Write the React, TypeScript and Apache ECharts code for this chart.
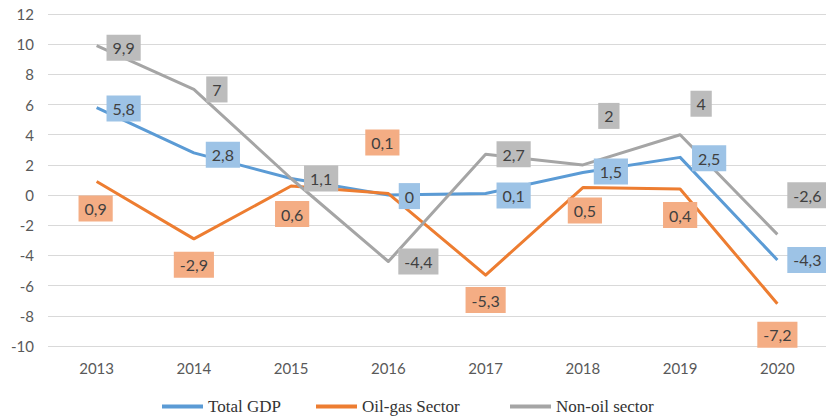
import React, { useEffect, useRef } from "react";
import * as echarts from "echarts";

const years = ["2013", "2014", "2015", "2016", "2017", "2018", "2019", "2020"];
const totalGdp = [5.8, 2.8, 1.1, 0, 0.1, 1.5, 2.5, -4.3];
const oilGas = [0.9, -2.9, 0.6, 0.1, -5.3, 0.5, 0.4, -7.2];
const nonOil = [9.9, 7, 1.1, -4.4, 2.7, 2, 4, -2.6];
const seriesNames = ["Total GDP", "Oil-gas Sector", "Non-oil sector"];
const yTicks = { min: -10, max: 12, interval: 2 };

// label placement (pixel offsets of label box centre from the point)
const gdpOffsets: ([number, number] | null)[] = [[27, 1], [29, 2], null, [21, 1], [28, 2], [28, -1], [29, 1], [30, 0]];
const oilOffsets: ([number, number] | null)[] = [[-1, 27], [0, 26], [1, 28], [-6, -51], [0, 25], [2, 23], [0, 26], [0, 31]];
const nonOilOffsets: ([number, number] | null)[] = [[27, 2], [23, 0], [30, 0], [30, 0], [28, 0], [26, -49], [21, -31], [30, -39]];
const legendLefts = [157, 311, 505];

const fmt = (v: number) => String(v).replace(".", ",");

function buildLabelData(values: number[], offsets: ([number, number] | null)[], bg: string) {
  return values.map((v, i) => {
    const off = offsets[i];
    return {
      value: [years[i], v],
      label: off
        ? {
            show: true,
            position: "inside",
            offset: off,
            formatter: () => fmt(v),
            backgroundColor: bg,
            color: "#404040",
            fontSize: 16,
            fontFamily: "Lato",
            padding: [5, 6, 3, 6],
            lineHeight: 18,
            opacity: 1,
          }
        : { show: false },
    };
  });
}

export default function App() {
  const ref = useRef<HTMLDivElement>(null);
  useEffect(() => {
    document.body.style.margin = "0";
    const chart = echarts.init(ref.current!, null, { renderer: "svg" });
    const axisFont = { color: "#595959", fontSize: 15, fontFamily: "Lato" };
    const lineSeries = (name: string, data: number[], color: string) => ({
      name,
      type: "line",
      data,
      symbol: "none",
      lineStyle: { color, width: 3, join: "round" },
      itemStyle: { color },
      emphasis: { disabled: true },
      z: 2,
    });
    const labelSeries = (name: string, data: any[], z: number) => ({
      name,
      type: "scatter",
      data,
      symbol: "circle",
      symbolSize: 0.01,
      itemStyle: { color: "rgba(0,0,0,0)", opacity: 1 },
      emphasis: { disabled: true },
      silent: true,
      z,
    });
    chart.setOption({
      animation: false,
      backgroundColor: "#ffffff",
      grid: { left: 48, right: -3, top: 14, bottom: 74 },
      legend: seriesNames.map((n, i) => ({
        top: 393,
        left: legendLefts[i],
        itemWidth: 41,
        itemHeight: 4,
        itemGap: 0,
        icon: "rect",
        textStyle: { fontFamily: "Liberation Serif", fontSize: 17, color: "#333" },
        data: [n],
      })),
      xAxis: {
        type: "category",
        data: years,
        boundaryGap: true,
        axisLine: { show: false },
        axisTick: { show: false },
        axisLabel: { ...axisFont, margin: 14 },
      },
      yAxis: {
        type: "value",
        min: yTicks.min,
        max: yTicks.max,
        interval: yTicks.interval,
        axisLabel: { ...axisFont, margin: 14 },
        splitLine: { lineStyle: { color: "#d9d9d9", width: 1 } },
        axisLine: { show: false },
        axisTick: { show: false },
      },
      series: [
        lineSeries(seriesNames[0], totalGdp, "#5b9bd5"),
        lineSeries(seriesNames[1], oilGas, "#ed7d31"),
        lineSeries(seriesNames[2], nonOil, "#a5a5a5"),
        labelSeries("gdp-labels", buildLabelData(totalGdp, gdpOffsets, "#9dc3e6"), 10),
        labelSeries("oil-labels", buildLabelData(oilGas, oilOffsets, "#f4ad84"), 11),
        labelSeries("nonoil-labels", buildLabelData(nonOil, nonOilOffsets, "#bcbcbc"), 12),
      ],
    });
    return () => chart.dispose();
  }, []);
  return <div ref={ref} style={{ width: 826, height: 420 }} />;
}
